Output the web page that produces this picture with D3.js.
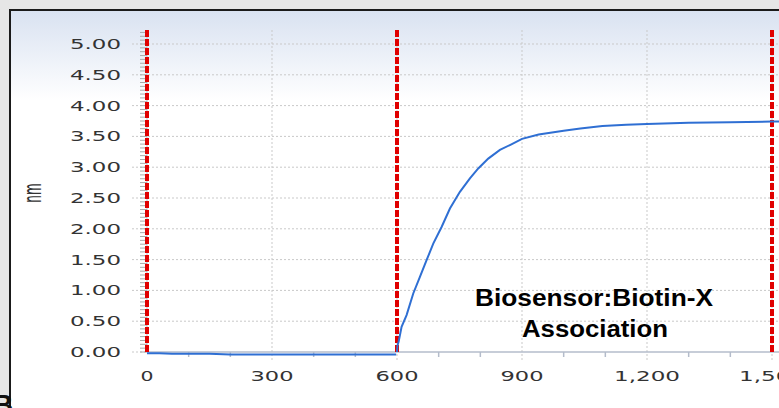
<!DOCTYPE html>
<html lang="en">
<head>
  <meta charset="UTF-8">
  <title>Biosensor:Biotin-X Association</title>
  <script src="https://d3js.org/d3.v7.min.js"></script>
  <style>
    body { margin: 0; background: #e6e6e6; }
    svg { display: block; }
  </style>
</head>
<body>
  <svg id="chart" width="779" height="408"></svg>

  <script>
    // x ticks (seconds) and y ticks (nm)
    const xTicks = [0, 300, 600, 900, 1200, 1500];
    const xTickLabels = ['0', '300', '600', '900', '1,200', '1,500'];
    const yTicks = [0, 0.5, 1, 1.5, 2, 2.5, 3, 3.5, 4, 4.5, 5];
    const yTickLabels = ['0.00', '0.50', '1.00', '1.50', '2.00', '2.50', '3.00', '3.50', '4.00', '4.50', '5.00'];

    // step boundaries (red dashed lines)
    const stepTimes = [0, 600, 1500];

    // baseline step
    const baseTime = [0, 30, 60, 100, 150, 200, 250, 300, 350, 400, 450, 500, 550, 598];
    const baseNm = [-0.02, -0.02, -0.03, -0.03, -0.03, -0.04, -0.04, -0.04, -0.04, -0.04, -0.04, -0.04, -0.04, -0.04];

    // association step
    const assocTime = [600, 601, 604, 611, 623, 639, 655, 671, 687, 707, 727, 751, 775, 795, 819, 847, 871, 900, 940, 1000, 1040, 1093, 1150, 1200, 1300, 1400, 1500, 1530];
    const assocNm = [0.0, 0.10, 0.17, 0.41, 0.60, 0.95, 1.22, 1.49, 1.76, 2.03, 2.33, 2.60, 2.82, 2.98, 3.14, 3.28, 3.36, 3.46, 3.53, 3.59, 3.63, 3.67, 3.69, 3.70, 3.72, 3.73, 3.74, 3.74];

    const svg = d3.select('#chart');
    const W = 779, H = 408;

    const x = d3.scaleLinear().domain([0, 1500]).range([147, 772]);
    const y = d3.scaleLinear().domain([0, 5]).range([352, 44]);
    const plotTop = 30;

    // panel background with soft blue gradient at top
    const defs = svg.append('defs');
    const grad = defs.append('linearGradient')
      .attr('id', 'panelGrad').attr('x1', 0).attr('y1', 0).attr('x2', 0).attr('y2', 1);
    grad.append('stop').attr('offset', '0%').attr('stop-color', '#d9e2f1');
    grad.append('stop').attr('offset', '100%').attr('stop-color', '#ffffff');

    svg.append('rect').attr('width', W).attr('height', H).attr('fill', '#e6e6e6');
    svg.append('rect').attr('x', 11).attr('y', 11).attr('width', W - 11).attr('height', 90)
      .attr('fill', 'url(#panelGrad)');
    svg.append('rect').attr('x', 11).attr('y', 100).attr('width', W - 11).attr('height', H - 100)
      .attr('fill', '#fff');

    // panel border
    svg.append('path')
      .attr('d', `M10,${H} L10,10 L${W},10`)
      .attr('fill', 'none').attr('stroke', '#1a1a1a').attr('stroke-width', 2);

    // letter peeking at bottom left (cut off in the original too)
    svg.append('text').attr('x', -7).attr('y', 414)
      .style('font-family', 'Liberation Sans, Arial, sans-serif')
      .style('font-weight', 'bold').style('font-size', '28px').attr('fill', '#111')
      .text('B');

    const gridColor = '#c9c9c9';

    // horizontal grid
    svg.append('g').selectAll('line').data(yTicks.filter(d => d > 0)).enter().append('line')
      .attr('x1', 132).attr('x2', W)
      .attr('y1', d => y(d)).attr('y2', d => y(d))
      .attr('stroke', gridColor).attr('stroke-width', 1).attr('stroke-dasharray', '2,2');

    // vertical grid
    svg.append('g').selectAll('line').data(xTicks.filter(d => d > 0)).enter().append('line')
      .attr('x1', d => x(d)).attr('x2', d => x(d))
      .attr('y1', plotTop).attr('y2', 360)
      .attr('stroke', gridColor).attr('stroke-width', 1).attr('stroke-dasharray', '2,2');

    // axis lines
    svg.append('line').attr('x1', 147).attr('x2', W).attr('y1', y(0)).attr('y2', y(0))
      .attr('stroke', '#b4bccb').attr('stroke-width', 1.5);
    svg.append('line').attr('x1', 147).attr('x2', 147).attr('y1', plotTop).attr('y2', y(0))
      .attr('stroke', '#b4bccb').attr('stroke-width', 1);
    svg.append('line').attr('x1', 132).attr('x2', 147).attr('y1', y(0)).attr('y2', y(0))
      .attr('stroke', gridColor).attr('stroke-dasharray', '2,2');

    // y minor ticks
    const yMinor = d3.range(0, 5.25, 0.0625);
    svg.append('g').selectAll('line').data(yMinor).enter().append('line')
      .attr('x1', 140).attr('x2', 147)
      .attr('y1', d => y(d)).attr('y2', d => y(d))
      .attr('stroke', '#a8a8a8').attr('stroke-width', 1);

    // x minor ticks
    const xMinor = d3.range(100, 1600, 100).filter(d => d % 300 !== 0);
    svg.append('g').selectAll('line').data(xMinor).enter().append('line')
      .attr('x1', d => x(d)).attr('x2', d => x(d))
      .attr('y1', y(0)).attr('y2', y(0) + 5)
      .attr('stroke', '#b4bccb').attr('stroke-width', 1.5);

    // tick labels (wide, stretched font)
    const labelFont = 'DejaVu Sans, Verdana, sans-serif';
    const charW = c => (c === '.' || c === ',') ? 8 : 15;
    const textW = s => s.split('').reduce((a, c) => a + charW(c), 0) - 2;

    svg.append('g').selectAll('text').data(yTicks).enter().append('text')
      .attr('x', 121).attr('y', d => y(d) + 5)
      .attr('text-anchor', 'end')
      .attr('textLength', (d, i) => textW(yTickLabels[i]))
      .attr('lengthAdjust', 'spacingAndGlyphs')
      .style('font-family', labelFont).style('font-size', '14px').attr('fill', '#333')
      .text((d, i) => yTickLabels[i]);

    svg.append('g').selectAll('text').data(xTicks).enter().append('text')
      .attr('x', d => x(d)).attr('y', 381)
      .attr('text-anchor', 'middle')
      .attr('textLength', (d, i) => textW(xTickLabels[i]))
      .attr('lengthAdjust', 'spacingAndGlyphs')
      .style('font-family', labelFont).style('font-size', '14px').attr('fill', '#333')
      .text((d, i) => xTickLabels[i]);

    // y axis title (stretched sideways like the rest)
    svg.append('text')
      .attr('transform', 'translate(41,193) scale(2,1) rotate(-90)')
      .attr('text-anchor', 'middle')
      .style('font-family', labelFont).style('font-size', '12px').attr('fill', '#333')
      .text('nm');

    // step boundary lines
    svg.append('g').selectAll('line').data(stepTimes).enter().append('line')
      .attr('x1', d => x(d)).attr('x2', d => x(d))
      .attr('y1', plotTop).attr('y2', y(0))
      .attr('stroke', '#e00000').attr('stroke-width', 4).attr('stroke-dasharray', '7,2');

    // data lines
    const line = d3.line().x(d => x(d[0])).y(d => y(d[1]));
    const baseData = baseTime.map((t, i) => [t, baseNm[i]]);
    const assocData = assocTime.map((t, i) => [t, assocNm[i]]);
    [baseData, assocData].forEach(data => {
      svg.append('path').datum(data)
        .attr('d', line)
        .attr('fill', 'none').attr('stroke', '#2f6fd3').attr('stroke-width', 2);
    });

    // annotation
    const ann = svg.append('text')
      .attr('text-anchor', 'middle')
      .style('font-family', 'Liberation Sans, Arial, sans-serif')
      .style('font-weight', 'bold').style('font-size', '23px').attr('fill', '#000');
    ann.append('tspan').attr('x', 594).attr('y', 306)
      .attr('textLength', 238).attr('lengthAdjust', 'spacingAndGlyphs')
      .text('Biosensor:Biotin-X');
    ann.append('tspan').attr('x', 595).attr('y', 337)
      .attr('textLength', 146).attr('lengthAdjust', 'spacingAndGlyphs')
      .text('Association');
  </script>
</body>
</html>
